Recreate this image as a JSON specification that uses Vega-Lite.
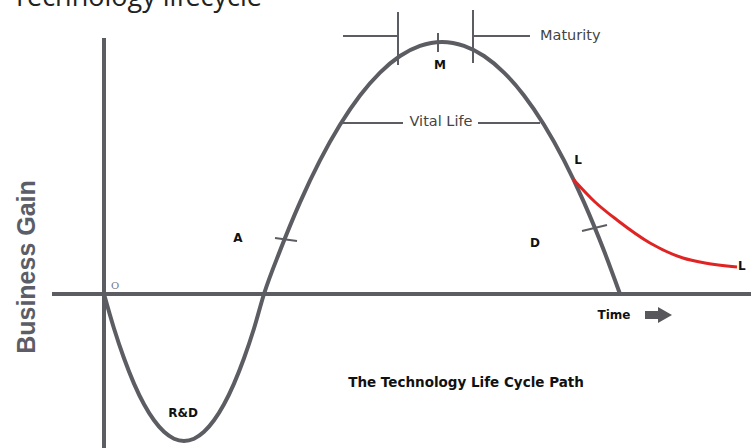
{
  "$schema": "https://vega.github.io/schema/vega-lite/v6.json",
  "width": 751,
  "height": 448,
  "autosize": "none",
  "padding": 0,
  "background": "white",
  "config": {"view": {"stroke": null}},
  "datasets": {
    "curve": [
      {"t": 0, "g": 0}, {"t": 10, "g": -34.5}, {"t": 20, "g": -64.3}, {"t": 30, "g": -89.6},
      {"t": 40, "g": -110.3}, {"t": 50, "g": -126.3}, {"t": 60, "g": -137.8}, {"t": 70, "g": -144.7},
      {"t": 80, "g": -147}, {"t": 90, "g": -144.7}, {"t": 100, "g": -137.8}, {"t": 110, "g": -126.3},
      {"t": 120, "g": -110.3}, {"t": 130, "g": -89.6}, {"t": 140, "g": -64.3}, {"t": 150, "g": -34.5},
      {"t": 160, "g": 0}, {"t": 176, "g": 43.2}, {"t": 196, "g": 91.6}, {"t": 216, "g": 133.6},
      {"t": 236, "g": 169.2}, {"t": 256, "g": 198.5}, {"t": 276, "g": 221.4}, {"t": 296, "g": 238},
      {"t": 316, "g": 248.1}, {"t": 338, "g": 252}, {"t": 360, "g": 248.1}, {"t": 380, "g": 238},
      {"t": 400, "g": 221.4}, {"t": 420, "g": 198.5}, {"t": 440, "g": 169.2}, {"t": 460, "g": 133.6},
      {"t": 480, "g": 91.6}, {"t": 500, "g": 43.2}, {"t": 516, "g": 0}
    ],
    "decline": [
      {"t": 469, "g": 115}, {"t": 491, "g": 92}, {"t": 513, "g": 74}, {"t": 546, "g": 51},
      {"t": 579, "g": 36}, {"t": 601, "g": 31}, {"t": 633, "g": 27}
    ],
    "axes": [
      {"t": 0, "g": -154, "t2": 0, "g2": 256},
      {"t": -52, "g": 0, "t2": 647, "g2": 0}
    ],
    "marks": [
      {"t": 294, "g": 229, "t2": 294, "g2": 282},
      {"t": 369, "g": 231, "t2": 369, "g2": 284},
      {"t": 334, "g": 242, "t2": 334, "g2": 261},
      {"t": 239, "g": 258, "t2": 294, "g2": 258},
      {"t": 369, "g": 258, "t2": 426, "g2": 258},
      {"t": 238, "g": 171, "t2": 299, "g2": 171},
      {"t": 374, "g": 171, "t2": 436, "g2": 171},
      {"t": 171, "g": 56, "t2": 193, "g2": 53},
      {"t": 478, "g": 63, "t2": 503, "g2": 69}
    ],
    "labels": [
      {"t": 336, "g": 229, "text": "M"},
      {"t": 134, "g": 56, "text": "A"},
      {"t": 431, "g": 51, "text": "D"},
      {"t": 474, "g": 134, "text": "L"},
      {"t": 79, "g": -119, "text": "R&D"},
      {"t": 510, "g": -21, "text": "Time"}
    ]
  },
  "layer": [
    {
      "data": {"name": "axes"},
      "mark": {"type": "rule", "color": "#5c5c63", "strokeWidth": 4},
      "encoding": {
        "x": {"field": "t", "type": "quantitative", "axis": null, "scale": {"domain": [-104, 647], "nice": false, "zero": false}},
        "y": {"field": "g", "type": "quantitative", "axis": null, "scale": {"domain": [-154, 294], "nice": false, "zero": false}},
        "x2": {"field": "t2"},
        "y2": {"field": "g2"}
      }
    },
    {
      "data": {"name": "marks"},
      "mark": {"type": "rule", "color": "#5c5c63", "strokeWidth": 2},
      "encoding": {
        "x": {"field": "t", "type": "quantitative"},
        "y": {"field": "g", "type": "quantitative"},
        "x2": {"field": "t2"},
        "y2": {"field": "g2"}
      }
    },
    {
      "data": {"name": "curve"},
      "mark": {"type": "line", "color": "#5c5c63", "strokeWidth": 4, "interpolate": "monotone"},
      "encoding": {
        "x": {"field": "t", "type": "quantitative"},
        "y": {"field": "g", "type": "quantitative"}
      }
    },
    {
      "data": {"name": "decline"},
      "mark": {"type": "line", "color": "#e02424", "strokeWidth": 3, "interpolate": "monotone"},
      "encoding": {
        "x": {"field": "t", "type": "quantitative"},
        "y": {"field": "g", "type": "quantitative"}
      }
    },
    {
      "data": {"values": [{"t": 541, "g": -21, "t2": 557, "g2": -21}]},
      "mark": {"type": "rule", "color": "#58585c", "strokeWidth": 8},
      "encoding": {
        "x": {"field": "t", "type": "quantitative"},
        "y": {"field": "g", "type": "quantitative"},
        "x2": {"field": "t2"},
        "y2": {"field": "g2"}
      }
    },
    {
      "data": {"values": [{"t": 561, "g": -21}]},
      "mark": {"type": "point", "shape": "triangle-right", "filled": true, "color": "#58585c", "size": 260, "opacity": 1},
      "encoding": {
        "x": {"field": "t", "type": "quantitative"},
        "y": {"field": "g", "type": "quantitative"}
      }
    },
    {
      "data": {"name": "labels"},
      "mark": {"type": "text", "font": "DejaVu Sans", "fontWeight": "bold", "fontSize": 12, "color": "#111", "align": "center", "baseline": "middle"},
      "encoding": {
        "x": {"field": "t", "type": "quantitative"},
        "y": {"field": "g", "type": "quantitative"},
        "text": {"field": "text"}
      }
    },
    {
      "data": {"values": [{"t": 362, "g": -89, "text": "The Technology Life Cycle Path"}]},
      "mark": {"type": "text", "font": "DejaVu Sans", "fontWeight": "bold", "fontSize": 13.5, "color": "#111", "align": "center", "baseline": "middle"},
      "encoding": {
        "x": {"field": "t", "type": "quantitative"},
        "y": {"field": "g", "type": "quantitative"},
        "text": {"field": "text"}
      }
    },
    {
      "data": {"values": [{"t": 634, "g": 28, "text": "L"}]},
      "mark": {"type": "text", "font": "DejaVu Sans", "fontWeight": "bold", "fontSize": 12, "color": "#111", "align": "left", "baseline": "middle"},
      "encoding": {
        "x": {"field": "t", "type": "quantitative"},
        "y": {"field": "g", "type": "quantitative"},
        "text": {"field": "text"}
      }
    },
    {
      "data": {"values": [{"t": 337, "g": 172, "text": "Vital Life"}]},
      "mark": {"type": "text", "font": "DejaVu Sans", "fontSize": 14.5, "color": "#444", "align": "center", "baseline": "middle"},
      "encoding": {
        "x": {"field": "t", "type": "quantitative"},
        "y": {"field": "g", "type": "quantitative"},
        "text": {"field": "text"}
      }
    },
    {
      "data": {"values": [{"t": 436, "g": 258, "text": "Maturity"}]},
      "mark": {"type": "text", "font": "DejaVu Sans", "fontSize": 14.5, "color": "#444", "align": "left", "baseline": "middle"},
      "encoding": {
        "x": {"field": "t", "type": "quantitative"},
        "y": {"field": "g", "type": "quantitative"},
        "text": {"field": "text"}
      }
    },
    {
      "data": {"values": [{"t": 11, "g": 8, "text": "O"}]},
      "mark": {"type": "text", "font": "DejaVu Serif", "fontSize": 10, "color": "#777", "align": "center", "baseline": "middle"},
      "encoding": {
        "x": {"field": "t", "type": "quantitative"},
        "y": {"field": "g", "type": "quantitative"},
        "text": {"field": "text"}
      }
    },
    {
      "data": {"values": [{"t": -77, "g": 27, "text": "Business Gain"}]},
      "mark": {"type": "text", "font": "Liberation Sans", "fontWeight": "bold", "fontSize": 25, "color": "#5c5d66", "align": "center", "baseline": "middle", "angle": 270},
      "encoding": {
        "x": {"field": "t", "type": "quantitative"},
        "y": {"field": "g", "type": "quantitative"},
        "text": {"field": "text"}
      }
    },
    {
      "data": {"values": [{"t": 158, "g": 288, "text": "Technology lifecycle"}]},
      "mark": {"type": "text", "font": "Open Sans", "fontSize": 27, "color": "#222", "align": "right", "baseline": "alphabetic"},
      "encoding": {
        "x": {"field": "t", "type": "quantitative"},
        "y": {"field": "g", "type": "quantitative"},
        "text": {"field": "text"}
      }
    }
  ]
}
